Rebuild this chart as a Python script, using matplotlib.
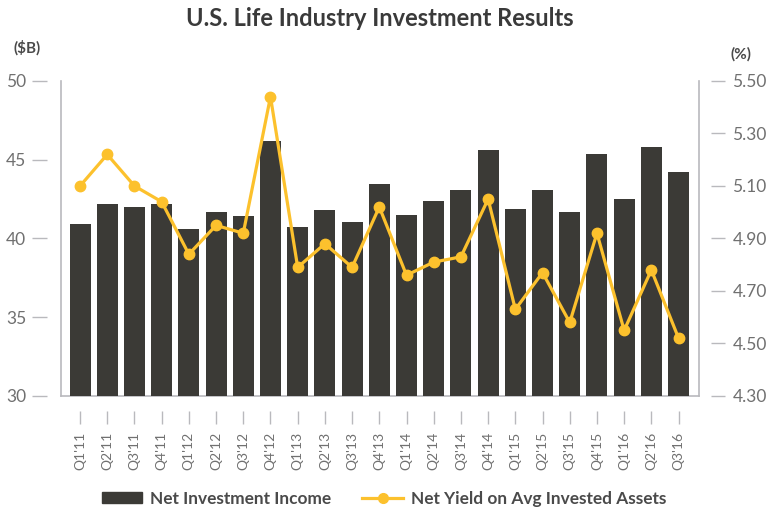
import matplotlib.pyplot as plt
import numpy as np
from matplotlib.lines import Line2D
from matplotlib.patches import Patch

quarters = ["Q1'11", "Q2'11", "Q3'11", "Q4'11", "Q1'12", "Q2'12", "Q3'12", "Q4'12",
            "Q1'13", "Q2'13", "Q3'13", "Q4'13", "Q1'14", "Q2'14", "Q3'14", "Q4'14",
            "Q1'15", "Q2'15", "Q3'15", "Q4'15", "Q1'16", "Q2'16", "Q3'16"]
net_income = [40.9, 42.2, 42.0, 42.2, 40.6, 41.7, 41.4, 46.2,
              40.7, 41.8, 41.05, 43.45, 41.5, 42.4, 43.1, 45.6,
              41.9, 43.1, 41.7, 45.35, 42.5, 45.8, 44.2]
net_yield = [5.10, 5.22, 5.10, 5.04, 4.84, 4.95, 4.92, 5.44,
             4.79, 4.88, 4.79, 5.02, 4.76, 4.81, 4.83, 5.05,
             4.63, 4.77, 4.58, 4.92, 4.55, 4.78, 4.52]

BAR = '#3b3a36'
GOLD = '#fcc12d'
GRID = '#b9b9bd'
LABEL = '#707070'

plt.rcParams['font.family'] = ['Lato', 'DejaVu Sans']

fig = plt.figure(figsize=(7.75, 5.08), dpi=100)
ax = fig.add_axes([0.0787, 0.2205, 0.8232, 0.6201])
x = np.arange(len(quarters))
ax.bar(x, net_income, width=0.77, color=BAR, zorder=2)
ax.set_xlim(-0.7, 22.75)
ax.set_ylim(30, 50)

ax2 = ax.twinx()
ax2.plot(x, net_yield, '-o', color=GOLD, lw=2.3, ms=7.5, zorder=3)
ax2.set_ylim(4.30, 5.50)

for a in (ax, ax2):
    for s in a.spines.values():
        s.set_visible(False)

# spine offsets reset the ticks, so set ticks and labels afterwards
ax.spines['left'].set_position(('outward', 10))
ax.spines['bottom'].set_position(('outward', 11))
ax2.spines['right'].set_position(('outward', 9))

ax.set_yticks([30, 35, 40, 45, 50])
ax.set_xticks(x)
ax.set_xticklabels(quarters)
ax2.set_yticks([4.30, 4.50, 4.70, 4.90, 5.10, 5.30, 5.50])
ax2.set_yticklabels(['4.30', '4.50', '4.70', '4.90', '5.10', '5.30', '5.50'])

ax.tick_params(axis='y', length=11, width=1, color=GRID, labelcolor=LABEL, labelsize=12.5, pad=4)
ax.tick_params(axis='x', length=9, width=1, color=GRID, labelcolor=LABEL, labelsize=10,
               pad=6, labelrotation=90)
ax2.tick_params(axis='y', length=10, width=1, color=GRID, labelcolor=LABEL, labelsize=12.5, pad=5)

# frame lines at the plot edges
ax.plot([0, 0], [0, 1], transform=ax.transAxes, color=GRID, lw=1.2, clip_on=False, zorder=1)
ax.plot([1, 1], [0, 1], transform=ax.transAxes, color=GRID, lw=1.2, clip_on=False, zorder=1)
ax.plot([0, 1], [0, 0], transform=ax.transAxes, color=GRID, lw=1.2, clip_on=False, zorder=1)

fig.text(0.49, 0.963, 'U.S. Life Industry Investment Results', ha='center', va='center',
         fontsize=17, fontweight='bold', color='#3a3a3a')
fig.text(0.018, 0.905, '($B)', ha='left', va='center', fontsize=11, fontweight='bold', color='#4a4a4a')
fig.text(0.942, 0.893, '(%)', ha='left', va='center', fontsize=11, fontweight='bold', color='#4a4a4a')

handles = [Patch(color=BAR, label='Net Investment Income'),
           Line2D([], [], color=GOLD, lw=2.3, marker='o', ms=7, label='Net Yield on Avg Invested Assets')]
leg = fig.legend(handles=handles, loc='center', bbox_to_anchor=(0.4955, 0.018), ncol=2,
                 frameon=False, handlelength=2.36, handleheight=0.63, handletextpad=0.46,
                 columnspacing=1.8, borderpad=0, prop={'weight': 'bold', 'size': 12.4})
for t in leg.get_texts():
    t.set_color('#4a4a4a')

fig.savefig('out.png', dpi=100)
